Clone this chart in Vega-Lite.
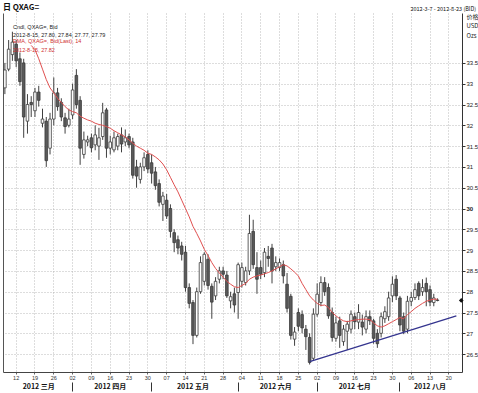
{
  "$schema": "https://vega.github.io/schema/vega-lite/v6.json",
  "width": 459,
  "height": 359,
  "autosize": {"type": "none"},
  "padding": {"left": 3, "top": 13, "right": 16, "bottom": 21},
  "background": "white",
  "config": {"view": {"stroke": null}, "font": "Liberation Sans"},
  "title": {
    "text": ["Cndl, QXAG=, Bid", "2012-8-15, 27.80, 27.84, 27.77, 27.79"],
    "subtitle": ["EMA, QXAG=, Bid(Last), 14", "2012-8-15, 27.82"],
    "anchor": "start", "frame": "group", "orient": "top", "offset": -50, "dx": 10,
    "font": "Liberation Sans", "fontSize": 5.5, "fontWeight": "normal", "color": "#222", "lineHeight": 8.5,
    "subtitleFont": "Liberation Sans", "subtitleFontSize": 5.5, "subtitleColor": "#d03030", "subtitleLineHeight": 8.5, "subtitlePadding": 0.5
  },
  "datasets": {
    "px": [
      {"d":"2012-03-07","o":32.90,"h":33.50,"l":32.75,"c":33.33,"e":null},
      {"d":"2012-03-08","o":33.35,"h":34.05,"l":33.30,"c":33.83,"e":null},
      {"d":"2012-03-09","o":33.70,"h":34.25,"l":33.55,"c":34.00,"e":null},
      {"d":"2012-03-12","o":33.95,"h":34.05,"l":33.40,"c":33.55,"e":null},
      {"d":"2012-03-13","o":33.60,"h":33.75,"l":32.95,"c":33.05,"e":null},
      {"d":"2012-03-14","o":33.50,"h":33.60,"l":31.70,"c":32.20,"e":null},
      {"d":"2012-03-15","o":32.10,"h":32.75,"l":31.80,"c":32.50,"e":null},
      {"d":"2012-03-16","o":32.55,"h":32.70,"l":32.20,"c":32.50,"e":33.92},
      {"d":"2012-03-19","o":32.35,"h":32.90,"l":32.20,"c":32.80,"e":33.82},
      {"d":"2012-03-20","o":32.80,"h":32.95,"l":32.45,"c":32.60,"e":33.60},
      {"d":"2012-03-21","o":32.05,"h":32.40,"l":31.95,"c":32.15,"e":33.35},
      {"d":"2012-03-22","o":32.10,"h":32.20,"l":31.00,"c":31.15,"e":33.10},
      {"d":"2012-03-23","o":31.45,"h":32.30,"l":31.30,"c":32.15,"e":32.90},
      {"d":"2012-03-26","o":32.15,"h":33.15,"l":32.00,"c":32.78,"e":32.78},
      {"d":"2012-03-27","o":32.78,"h":32.90,"l":32.35,"c":32.45,"e":32.65},
      {"d":"2012-03-28","o":32.55,"h":32.65,"l":32.10,"c":32.20,"e":32.55},
      {"d":"2012-03-29","o":32.18,"h":32.30,"l":31.80,"c":31.97,"e":32.45},
      {"d":"2012-03-30","o":32.00,"h":32.40,"l":31.95,"c":32.15,"e":32.37},
      {"d":"2012-04-02","o":32.25,"h":33.00,"l":32.15,"c":32.85,"e":32.33},
      {"d":"2012-04-03","o":33.20,"h":33.35,"l":32.40,"c":32.50,"e":32.30},
      {"d":"2012-04-04","o":32.60,"h":32.70,"l":31.05,"c":31.45,"e":32.22},
      {"d":"2012-04-05","o":31.30,"h":31.85,"l":31.20,"c":31.65,"e":32.17},
      {"d":"2012-04-06","o":31.60,"h":31.75,"l":31.50,"c":31.65,"e":32.13},
      {"d":"2012-04-09","o":31.70,"h":31.80,"l":31.35,"c":31.46,"e":32.10},
      {"d":"2012-04-10","o":31.53,"h":32.00,"l":31.40,"c":31.77,"e":32.05},
      {"d":"2012-04-11","o":31.50,"h":31.94,"l":31.17,"c":31.70,"e":32.02},
      {"d":"2012-04-12","o":31.73,"h":32.54,"l":31.65,"c":32.30,"e":32.00},
      {"d":"2012-04-13","o":32.37,"h":32.42,"l":31.22,"c":31.45,"e":31.97},
      {"d":"2012-04-16","o":31.45,"h":31.75,"l":31.30,"c":31.60,"e":31.93},
      {"d":"2012-04-17","o":31.41,"h":31.85,"l":31.35,"c":31.70,"e":31.87},
      {"d":"2012-04-18","o":31.50,"h":31.80,"l":31.40,"c":31.73,"e":31.82},
      {"d":"2012-04-19","o":31.77,"h":31.95,"l":31.35,"c":31.55,"e":31.77},
      {"d":"2012-04-20","o":31.60,"h":31.90,"l":31.50,"c":31.70,"e":31.72},
      {"d":"2012-04-23","o":31.73,"h":31.80,"l":31.45,"c":31.53,"e":31.65},
      {"d":"2012-04-24","o":31.60,"h":31.70,"l":30.72,"c":30.80,"e":31.57},
      {"d":"2012-04-25","o":31.00,"h":31.17,"l":30.50,"c":30.78,"e":31.50},
      {"d":"2012-04-26","o":30.70,"h":31.10,"l":30.60,"c":31.00,"e":31.45},
      {"d":"2012-04-27","o":31.00,"h":31.35,"l":30.90,"c":31.22,"e":31.40},
      {"d":"2012-04-30","o":31.30,"h":31.40,"l":30.85,"c":30.95,"e":31.33},
      {"d":"2012-05-01","o":31.10,"h":31.30,"l":30.60,"c":30.85,"e":31.30},
      {"d":"2012-05-02","o":30.88,"h":31.00,"l":30.45,"c":30.55,"e":31.24},
      {"d":"2012-05-03","o":30.60,"h":30.70,"l":30.05,"c":30.15,"e":31.17},
      {"d":"2012-05-04","o":30.10,"h":30.40,"l":29.70,"c":30.30,"e":31.07},
      {"d":"2012-05-07","o":30.20,"h":30.35,"l":29.75,"c":29.82,"e":30.93},
      {"d":"2012-05-08","o":30.00,"h":30.10,"l":29.30,"c":29.45,"e":30.75},
      {"d":"2012-05-09","o":29.42,"h":29.50,"l":28.95,"c":29.18,"e":30.57},
      {"d":"2012-05-10","o":29.25,"h":29.35,"l":28.90,"c":29.05,"e":30.40},
      {"d":"2012-05-11","o":29.10,"h":29.20,"l":28.75,"c":28.90,"e":30.20},
      {"d":"2012-05-14","o":28.95,"h":29.10,"l":28.00,"c":28.10,"e":30.00},
      {"d":"2012-05-15","o":28.10,"h":28.20,"l":27.60,"c":27.72,"e":29.80},
      {"d":"2012-05-16","o":27.74,"h":27.80,"l":26.74,"c":26.95,"e":29.57},
      {"d":"2012-05-17","o":26.95,"h":28.10,"l":26.90,"c":28.00,"e":29.40},
      {"d":"2012-05-18","o":28.00,"h":28.85,"l":27.95,"c":28.70,"e":29.22},
      {"d":"2012-05-21","o":28.25,"h":28.95,"l":28.15,"c":28.90,"e":29.02},
      {"d":"2012-05-22","o":28.78,"h":28.90,"l":28.05,"c":28.15,"e":28.87},
      {"d":"2012-05-23","o":28.13,"h":28.20,"l":27.35,"c":27.75,"e":28.70},
      {"d":"2012-05-24","o":27.90,"h":28.35,"l":27.80,"c":28.25,"e":28.56},
      {"d":"2012-05-25","o":28.30,"h":28.60,"l":28.20,"c":28.50,"e":28.45},
      {"d":"2012-05-28","o":28.50,"h":28.60,"l":28.30,"c":28.42,"e":28.35},
      {"d":"2012-05-29","o":28.40,"h":28.50,"l":27.85,"c":27.90,"e":28.25},
      {"d":"2012-05-30","o":27.78,"h":28.00,"l":27.60,"c":27.88,"e":28.18},
      {"d":"2012-05-31","o":27.95,"h":28.10,"l":27.50,"c":27.68,"e":28.12},
      {"d":"2012-06-01","o":27.98,"h":28.70,"l":27.35,"c":28.65,"e":28.10},
      {"d":"2012-06-04","o":28.25,"h":28.70,"l":28.10,"c":28.58,"e":28.15},
      {"d":"2012-06-05","o":28.22,"h":28.60,"l":28.15,"c":28.50,"e":28.20},
      {"d":"2012-06-06","o":28.50,"h":29.85,"l":28.40,"c":29.40,"e":28.30},
      {"d":"2012-06-07","o":29.45,"h":29.73,"l":28.55,"c":28.65,"e":28.35},
      {"d":"2012-06-08","o":28.58,"h":28.95,"l":27.95,"c":28.30,"e":28.38},
      {"d":"2012-06-11","o":28.58,"h":28.75,"l":28.30,"c":28.42,"e":28.40},
      {"d":"2012-06-12","o":28.46,"h":29.05,"l":28.35,"c":28.95,"e":28.43},
      {"d":"2012-06-13","o":28.85,"h":29.10,"l":28.60,"c":28.80,"e":28.46},
      {"d":"2012-06-14","o":29.05,"h":29.15,"l":28.20,"c":28.50,"e":28.50},
      {"d":"2012-06-15","o":28.60,"h":28.85,"l":28.50,"c":28.70,"e":28.55},
      {"d":"2012-06-18","o":28.58,"h":28.80,"l":28.50,"c":28.70,"e":28.60},
      {"d":"2012-06-19","o":28.65,"h":28.75,"l":28.20,"c":28.38,"e":28.65},
      {"d":"2012-06-20","o":28.18,"h":28.45,"l":27.50,"c":27.60,"e":28.62},
      {"d":"2012-06-21","o":27.89,"h":27.95,"l":26.85,"c":26.95,"e":28.55},
      {"d":"2012-06-22","o":26.86,"h":27.15,"l":26.70,"c":27.03,"e":28.47},
      {"d":"2012-06-25","o":27.50,"h":27.60,"l":27.05,"c":27.17,"e":28.38},
      {"d":"2012-06-26","o":27.45,"h":27.55,"l":27.00,"c":27.13,"e":28.20},
      {"d":"2012-06-27","o":27.10,"h":27.20,"l":26.60,"c":26.92,"e":28.05},
      {"d":"2012-06-28","o":26.90,"h":27.00,"l":26.25,"c":26.30,"e":27.90},
      {"d":"2012-06-29","o":26.40,"h":27.60,"l":26.35,"c":27.46,"e":27.80},
      {"d":"2012-07-02","o":27.46,"h":28.20,"l":27.40,"c":27.94,"e":27.72},
      {"d":"2012-07-03","o":27.74,"h":28.37,"l":27.65,"c":28.22,"e":27.67},
      {"d":"2012-07-04","o":28.22,"h":28.35,"l":27.90,"c":28.00,"e":27.68},
      {"d":"2012-07-05","o":28.10,"h":28.20,"l":27.35,"c":27.42,"e":27.62},
      {"d":"2012-07-06","o":27.50,"h":27.62,"l":26.80,"c":26.90,"e":27.50},
      {"d":"2012-07-09","o":26.88,"h":27.40,"l":26.80,"c":27.25,"e":27.42},
      {"d":"2012-07-10","o":27.30,"h":27.40,"l":26.65,"c":26.95,"e":27.35},
      {"d":"2012-07-11","o":26.80,"h":27.20,"l":26.70,"c":27.10,"e":27.30},
      {"d":"2012-07-12","o":27.05,"h":27.30,"l":26.60,"c":27.22,"e":27.28},
      {"d":"2012-07-13","o":27.10,"h":27.55,"l":27.00,"c":27.46,"e":27.30},
      {"d":"2012-07-16","o":27.40,"h":27.50,"l":27.10,"c":27.28,"e":27.32},
      {"d":"2012-07-17","o":27.27,"h":27.70,"l":27.10,"c":27.50,"e":27.33},
      {"d":"2012-07-18","o":27.27,"h":27.45,"l":26.95,"c":27.15,"e":27.34},
      {"d":"2012-07-19","o":27.10,"h":27.55,"l":27.00,"c":27.40,"e":27.34},
      {"d":"2012-07-20","o":27.40,"h":27.55,"l":27.20,"c":27.30,"e":27.33},
      {"d":"2012-07-23","o":27.30,"h":27.35,"l":26.75,"c":26.88,"e":27.25},
      {"d":"2012-07-24","o":27.00,"h":27.10,"l":26.65,"c":26.75,"e":27.18},
      {"d":"2012-07-25","o":27.00,"h":27.50,"l":26.90,"c":27.40,"e":27.15},
      {"d":"2012-07-26","o":27.35,"h":27.65,"l":27.25,"c":27.52,"e":27.18},
      {"d":"2012-07-27","o":27.40,"h":28.00,"l":27.30,"c":27.85,"e":27.23},
      {"d":"2012-07-30","o":27.90,"h":28.37,"l":27.75,"c":28.18,"e":27.28},
      {"d":"2012-07-31","o":28.30,"h":28.40,"l":27.80,"c":27.90,"e":27.33},
      {"d":"2012-08-01","o":27.85,"h":27.90,"l":27.05,"c":27.20,"e":27.38},
      {"d":"2012-08-02","o":27.40,"h":27.50,"l":26.98,"c":27.05,"e":27.35},
      {"d":"2012-08-03","o":27.10,"h":27.90,"l":27.00,"c":27.77,"e":27.45},
      {"d":"2012-08-06","o":27.77,"h":28.00,"l":27.65,"c":27.86,"e":27.52},
      {"d":"2012-08-07","o":27.86,"h":28.20,"l":27.80,"c":28.05,"e":27.60},
      {"d":"2012-08-08","o":28.20,"h":28.25,"l":27.80,"c":27.90,"e":27.66},
      {"d":"2012-08-09","o":28.00,"h":28.30,"l":27.90,"c":28.10,"e":27.72},
      {"d":"2012-08-10","o":28.20,"h":28.34,"l":27.65,"c":28.00,"e":27.77},
      {"d":"2012-08-13","o":28.05,"h":28.15,"l":27.65,"c":27.75,"e":27.80},
      {"d":"2012-08-14","o":27.74,"h":27.95,"l":27.65,"c":27.85,"e":27.82},
      {"d":"2012-08-15","o":27.80,"h":27.84,"l":27.77,"c":27.79,"e":27.82}
    ],
    "trend": [
      {"d":"2012-06-28","p":26.32},
      {"d":"2012-08-22","p":27.42}
    ]
  },
  "layer": [
    {
      "data": {"name": "px"},
      "mark": {"type": "rule", "color": "#404040", "strokeWidth": 1},
      "encoding": {
        "x": {"field": "d", "type": "ordinal",
          "scale": {"domain": ["2012-03-07","2012-03-08","2012-03-09","2012-03-12","2012-03-13","2012-03-14","2012-03-15","2012-03-16","2012-03-19","2012-03-20","2012-03-21","2012-03-22","2012-03-23","2012-03-26","2012-03-27","2012-03-28","2012-03-29","2012-03-30","2012-04-02","2012-04-03","2012-04-04","2012-04-05","2012-04-06","2012-04-09","2012-04-10","2012-04-11","2012-04-12","2012-04-13","2012-04-16","2012-04-17","2012-04-18","2012-04-19","2012-04-20","2012-04-23","2012-04-24","2012-04-25","2012-04-26","2012-04-27","2012-04-30","2012-05-01","2012-05-02","2012-05-03","2012-05-04","2012-05-07","2012-05-08","2012-05-09","2012-05-10","2012-05-11","2012-05-14","2012-05-15","2012-05-16","2012-05-17","2012-05-18","2012-05-21","2012-05-22","2012-05-23","2012-05-24","2012-05-25","2012-05-28","2012-05-29","2012-05-30","2012-05-31","2012-06-01","2012-06-04","2012-06-05","2012-06-06","2012-06-07","2012-06-08","2012-06-11","2012-06-12","2012-06-13","2012-06-14","2012-06-15","2012-06-18","2012-06-19","2012-06-20","2012-06-21","2012-06-22","2012-06-25","2012-06-26","2012-06-27","2012-06-28","2012-06-29","2012-07-02","2012-07-03","2012-07-04","2012-07-05","2012-07-06","2012-07-09","2012-07-10","2012-07-11","2012-07-12","2012-07-13","2012-07-16","2012-07-17","2012-07-18","2012-07-19","2012-07-20","2012-07-23","2012-07-24","2012-07-25","2012-07-26","2012-07-27","2012-07-30","2012-07-31","2012-08-01","2012-08-02","2012-08-03","2012-08-06","2012-08-07","2012-08-08","2012-08-09","2012-08-10","2012-08-13","2012-08-14","2012-08-15","2012-08-16","2012-08-17","2012-08-20","2012-08-21","2012-08-22","2012-08-23"], "paddingInner": 0, "paddingOuter": 0},
          "axis": {"orient": "bottom", "title": null, "bandPosition": 0.5,
            "values": ["2012-03-12","2012-03-19","2012-03-26","2012-04-02","2012-04-09","2012-04-16","2012-04-23","2012-04-30","2012-05-07","2012-05-14","2012-05-21","2012-05-28","2012-06-04","2012-06-11","2012-06-18","2012-06-25","2012-07-02","2012-07-09","2012-07-16","2012-07-23","2012-07-30","2012-08-06","2012-08-13","2012-08-20"],
            "labelExpr": "substring(datum.label, 8, 10)", "labelAngle": 0, "labelFontSize": 5.5, "labelColor": "#333", "labelPadding": 1,
            "labelOverlap": false, "labelFlush": false, "labelBound": false,
            "grid": true, "gridColor": "#a8a8a8", "gridDash": [1, 2], "gridWidth": 0.8,
            "domain": true, "domainColor": "#444", "ticks": true, "tickSize": 2, "tickColor": "#666"}
        },
        "y": {"field": "l", "type": "quantitative",
          "scale": {"domain": [26.07, 34.7], "zero": false, "nice": false},
          "axis": {"orient": "right", "values": [26.5,27,27.5,28,28.5,29,29.5,30,30.5,31,31.5,32,32.5,33,33.5], "format": "~g",
            "grid": true, "gridColor": "#a8a8a8", "gridDash": [1, 2], "gridWidth": 0.8,
            "domain": true, "domainColor": "#333", "tickColor": "#333", "tickSize": 3,
            "labelFontSize": 6, "labelColor": "#222", "labelPadding": 1, "labelFlush": false, "labelOverlap": false,
            "labelFontWeight": {"condition": {"test": "datum.value == 30", "value": "bold"}, "value": "normal"},
            "title": ["价格", "USD", "Ozs"], "titleAngle": 0, "titleAlign": "left", "titleBaseline": "top",
            "titleX": 4, "titleY": 0, "titleFontSize": 6, "titleFontWeight": "normal", "titleFont": "Noto Sans CJK SC",
            "titleLineHeight": 9.5, "titleColor": "#222"}
        },
        "y2": {"field": "h"}
      }
    },
    {
      "data": {"name": "px"},
      "mark": {"type": "bar", "width": 2.6, "stroke": "#3a3a3a", "strokeWidth": 0.8},
      "encoding": {
        "x": {"field": "d", "type": "ordinal",
          "scale": {"domain": ["2012-03-07","2012-03-08","2012-03-09","2012-03-12","2012-03-13","2012-03-14","2012-03-15","2012-03-16","2012-03-19","2012-03-20","2012-03-21","2012-03-22","2012-03-23","2012-03-26","2012-03-27","2012-03-28","2012-03-29","2012-03-30","2012-04-02","2012-04-03","2012-04-04","2012-04-05","2012-04-06","2012-04-09","2012-04-10","2012-04-11","2012-04-12","2012-04-13","2012-04-16","2012-04-17","2012-04-18","2012-04-19","2012-04-20","2012-04-23","2012-04-24","2012-04-25","2012-04-26","2012-04-27","2012-04-30","2012-05-01","2012-05-02","2012-05-03","2012-05-04","2012-05-07","2012-05-08","2012-05-09","2012-05-10","2012-05-11","2012-05-14","2012-05-15","2012-05-16","2012-05-17","2012-05-18","2012-05-21","2012-05-22","2012-05-23","2012-05-24","2012-05-25","2012-05-28","2012-05-29","2012-05-30","2012-05-31","2012-06-01","2012-06-04","2012-06-05","2012-06-06","2012-06-07","2012-06-08","2012-06-11","2012-06-12","2012-06-13","2012-06-14","2012-06-15","2012-06-18","2012-06-19","2012-06-20","2012-06-21","2012-06-22","2012-06-25","2012-06-26","2012-06-27","2012-06-28","2012-06-29","2012-07-02","2012-07-03","2012-07-04","2012-07-05","2012-07-06","2012-07-09","2012-07-10","2012-07-11","2012-07-12","2012-07-13","2012-07-16","2012-07-17","2012-07-18","2012-07-19","2012-07-20","2012-07-23","2012-07-24","2012-07-25","2012-07-26","2012-07-27","2012-07-30","2012-07-31","2012-08-01","2012-08-02","2012-08-03","2012-08-06","2012-08-07","2012-08-08","2012-08-09","2012-08-10","2012-08-13","2012-08-14","2012-08-15","2012-08-16","2012-08-17","2012-08-20","2012-08-21","2012-08-22","2012-08-23"], "paddingInner": 0, "paddingOuter": 0},
          "axis": {"orient": "bottom", "title": null, "bandPosition": 0.5,
            "values": ["2012-03-20","2012-04-16","2012-05-16","2012-06-15","2012-07-16","2012-08-13"],
            "labelExpr": "substring(datum.label,5,7)=='03' ? '2012 三月' : substring(datum.label,5,7)=='04' ? '2012 四月' : substring(datum.label,5,7)=='05' ? '2012 五月' : substring(datum.label,5,7)=='06' ? '2012 六月' : substring(datum.label,5,7)=='07' ? '2012 七月' : '2012 八月'",
            "labelAngle": 0, "labelFont": "Noto Sans CJK SC", "labelFontSize": 7, "labelFontWeight": "bold", "labelColor": "#111",
            "labelPadding": 10, "labelOverlap": false, "labelFlush": false, "labelBound": false,
            "grid": false, "domain": false, "ticks": false}
        },
        "y": {"field": "o", "type": "quantitative", "scale": {"domain": [26.07, 34.7], "zero": false, "nice": false}, "axis": null},
        "y2": {"field": "c"},
        "fill": {"condition": {"test": "datum.c >= datum.o", "value": "#ffffff"}, "value": "#5a5a5a"}
      }
    },
    {
      "data": {"name": "px"},
      "mark": {"type": "line", "color": "#e05050", "strokeWidth": 1},
      "encoding": {
        "x": {"field": "d", "type": "ordinal",
          "scale": {"domain": ["2012-03-07","2012-03-08","2012-03-09","2012-03-12","2012-03-13","2012-03-14","2012-03-15","2012-03-16","2012-03-19","2012-03-20","2012-03-21","2012-03-22","2012-03-23","2012-03-26","2012-03-27","2012-03-28","2012-03-29","2012-03-30","2012-04-02","2012-04-03","2012-04-04","2012-04-05","2012-04-06","2012-04-09","2012-04-10","2012-04-11","2012-04-12","2012-04-13","2012-04-16","2012-04-17","2012-04-18","2012-04-19","2012-04-20","2012-04-23","2012-04-24","2012-04-25","2012-04-26","2012-04-27","2012-04-30","2012-05-01","2012-05-02","2012-05-03","2012-05-04","2012-05-07","2012-05-08","2012-05-09","2012-05-10","2012-05-11","2012-05-14","2012-05-15","2012-05-16","2012-05-17","2012-05-18","2012-05-21","2012-05-22","2012-05-23","2012-05-24","2012-05-25","2012-05-28","2012-05-29","2012-05-30","2012-05-31","2012-06-01","2012-06-04","2012-06-05","2012-06-06","2012-06-07","2012-06-08","2012-06-11","2012-06-12","2012-06-13","2012-06-14","2012-06-15","2012-06-18","2012-06-19","2012-06-20","2012-06-21","2012-06-22","2012-06-25","2012-06-26","2012-06-27","2012-06-28","2012-06-29","2012-07-02","2012-07-03","2012-07-04","2012-07-05","2012-07-06","2012-07-09","2012-07-10","2012-07-11","2012-07-12","2012-07-13","2012-07-16","2012-07-17","2012-07-18","2012-07-19","2012-07-20","2012-07-23","2012-07-24","2012-07-25","2012-07-26","2012-07-27","2012-07-30","2012-07-31","2012-08-01","2012-08-02","2012-08-03","2012-08-06","2012-08-07","2012-08-08","2012-08-09","2012-08-10","2012-08-13","2012-08-14","2012-08-15","2012-08-16","2012-08-17","2012-08-20","2012-08-21","2012-08-22","2012-08-23"], "paddingInner": 0, "paddingOuter": 0},
          "axis": {"orient": "bottom", "title": null, "bandPosition": 0.5,
            "values": ["2012-04-02","2012-05-01","2012-06-01","2012-07-02","2012-08-01"],
            "labels": false, "ticks": true, "tickSize": 9, "tickColor": "#333", "tickWidth": 1, "offset": 10,
            "domain": false, "grid": false}
        },
        "y": {"field": "e", "type": "quantitative", "scale": {"domain": [26.07, 34.7], "zero": false, "nice": false},
          "axis": {"orient": "left", "labels": false, "ticks": false, "grid": false, "title": null, "domain": true, "domainColor": "#555"}}
      }
    },
    {
      "data": {"name": "trend"},
      "mark": {"type": "line", "color": "#34348e", "strokeWidth": 1.2},
      "encoding": {
        "x": {"field": "d", "type": "ordinal",
          "scale": {"domain": ["2012-03-07","2012-03-08","2012-03-09","2012-03-12","2012-03-13","2012-03-14","2012-03-15","2012-03-16","2012-03-19","2012-03-20","2012-03-21","2012-03-22","2012-03-23","2012-03-26","2012-03-27","2012-03-28","2012-03-29","2012-03-30","2012-04-02","2012-04-03","2012-04-04","2012-04-05","2012-04-06","2012-04-09","2012-04-10","2012-04-11","2012-04-12","2012-04-13","2012-04-16","2012-04-17","2012-04-18","2012-04-19","2012-04-20","2012-04-23","2012-04-24","2012-04-25","2012-04-26","2012-04-27","2012-04-30","2012-05-01","2012-05-02","2012-05-03","2012-05-04","2012-05-07","2012-05-08","2012-05-09","2012-05-10","2012-05-11","2012-05-14","2012-05-15","2012-05-16","2012-05-17","2012-05-18","2012-05-21","2012-05-22","2012-05-23","2012-05-24","2012-05-25","2012-05-28","2012-05-29","2012-05-30","2012-05-31","2012-06-01","2012-06-04","2012-06-05","2012-06-06","2012-06-07","2012-06-08","2012-06-11","2012-06-12","2012-06-13","2012-06-14","2012-06-15","2012-06-18","2012-06-19","2012-06-20","2012-06-21","2012-06-22","2012-06-25","2012-06-26","2012-06-27","2012-06-28","2012-06-29","2012-07-02","2012-07-03","2012-07-04","2012-07-05","2012-07-06","2012-07-09","2012-07-10","2012-07-11","2012-07-12","2012-07-13","2012-07-16","2012-07-17","2012-07-18","2012-07-19","2012-07-20","2012-07-23","2012-07-24","2012-07-25","2012-07-26","2012-07-27","2012-07-30","2012-07-31","2012-08-01","2012-08-02","2012-08-03","2012-08-06","2012-08-07","2012-08-08","2012-08-09","2012-08-10","2012-08-13","2012-08-14","2012-08-15","2012-08-16","2012-08-17","2012-08-20","2012-08-21","2012-08-22","2012-08-23"], "paddingInner": 0, "paddingOuter": 0},
          "axis": {"orient": "top", "title": null, "bandPosition": 0.5,
            "values": ["2012-03-07", "2012-08-23"],
            "labelExpr": "datum.label == '2012-03-07' ? '日 QXAG=' : '2012-3-7 - 2012-8-23 (BID)'",
            "labelAngle": 0, "labelFont": "Noto Sans CJK SC", "labelColor": "#111", "labelPadding": 2,
            "labelAlign": {"condition": {"test": "datum.value == '2012-03-07'", "value": "left"}, "value": "right"},
            "labelFontSize": {"condition": {"test": "datum.value == '2012-03-07'", "value": 8}, "value": 5.5},
            "labelFontWeight": {"condition": {"test": "datum.value == '2012-03-07'", "value": "bold"}, "value": "normal"},
            "labelOffset": {"condition": {"test": "datum.value == '2012-03-07'", "value": -2}, "value": 16},
            "labelOverlap": false, "labelFlush": false, "labelBound": false,
            "ticks": false, "domain": false, "grid": false}
        },
        "y": {"field": "p", "type": "quantitative", "scale": {"domain": [26.07, 34.7], "zero": false, "nice": false}, "axis": null}
      }
    },
    {
      "data": {"name": "px"},
      "transform": [{"filter": "datum.d == '2012-08-15'"}],
      "mark": {"type": "point", "shape": "diamond", "filled": true, "color": "#111", "size": 22, "opacity": 1},
      "encoding": {
        "x": {"datum": "2012-08-23", "type": "ordinal", "axis": null},
        "xOffset": {"value": 3},
        "y": {"field": "c", "type": "quantitative", "scale": {"domain": [26.07, 34.7], "zero": false, "nice": false}, "axis": null}
      }
    }
  ],
  "resolve": {"axis": {"x": "independent", "y": "independent"}}
}
